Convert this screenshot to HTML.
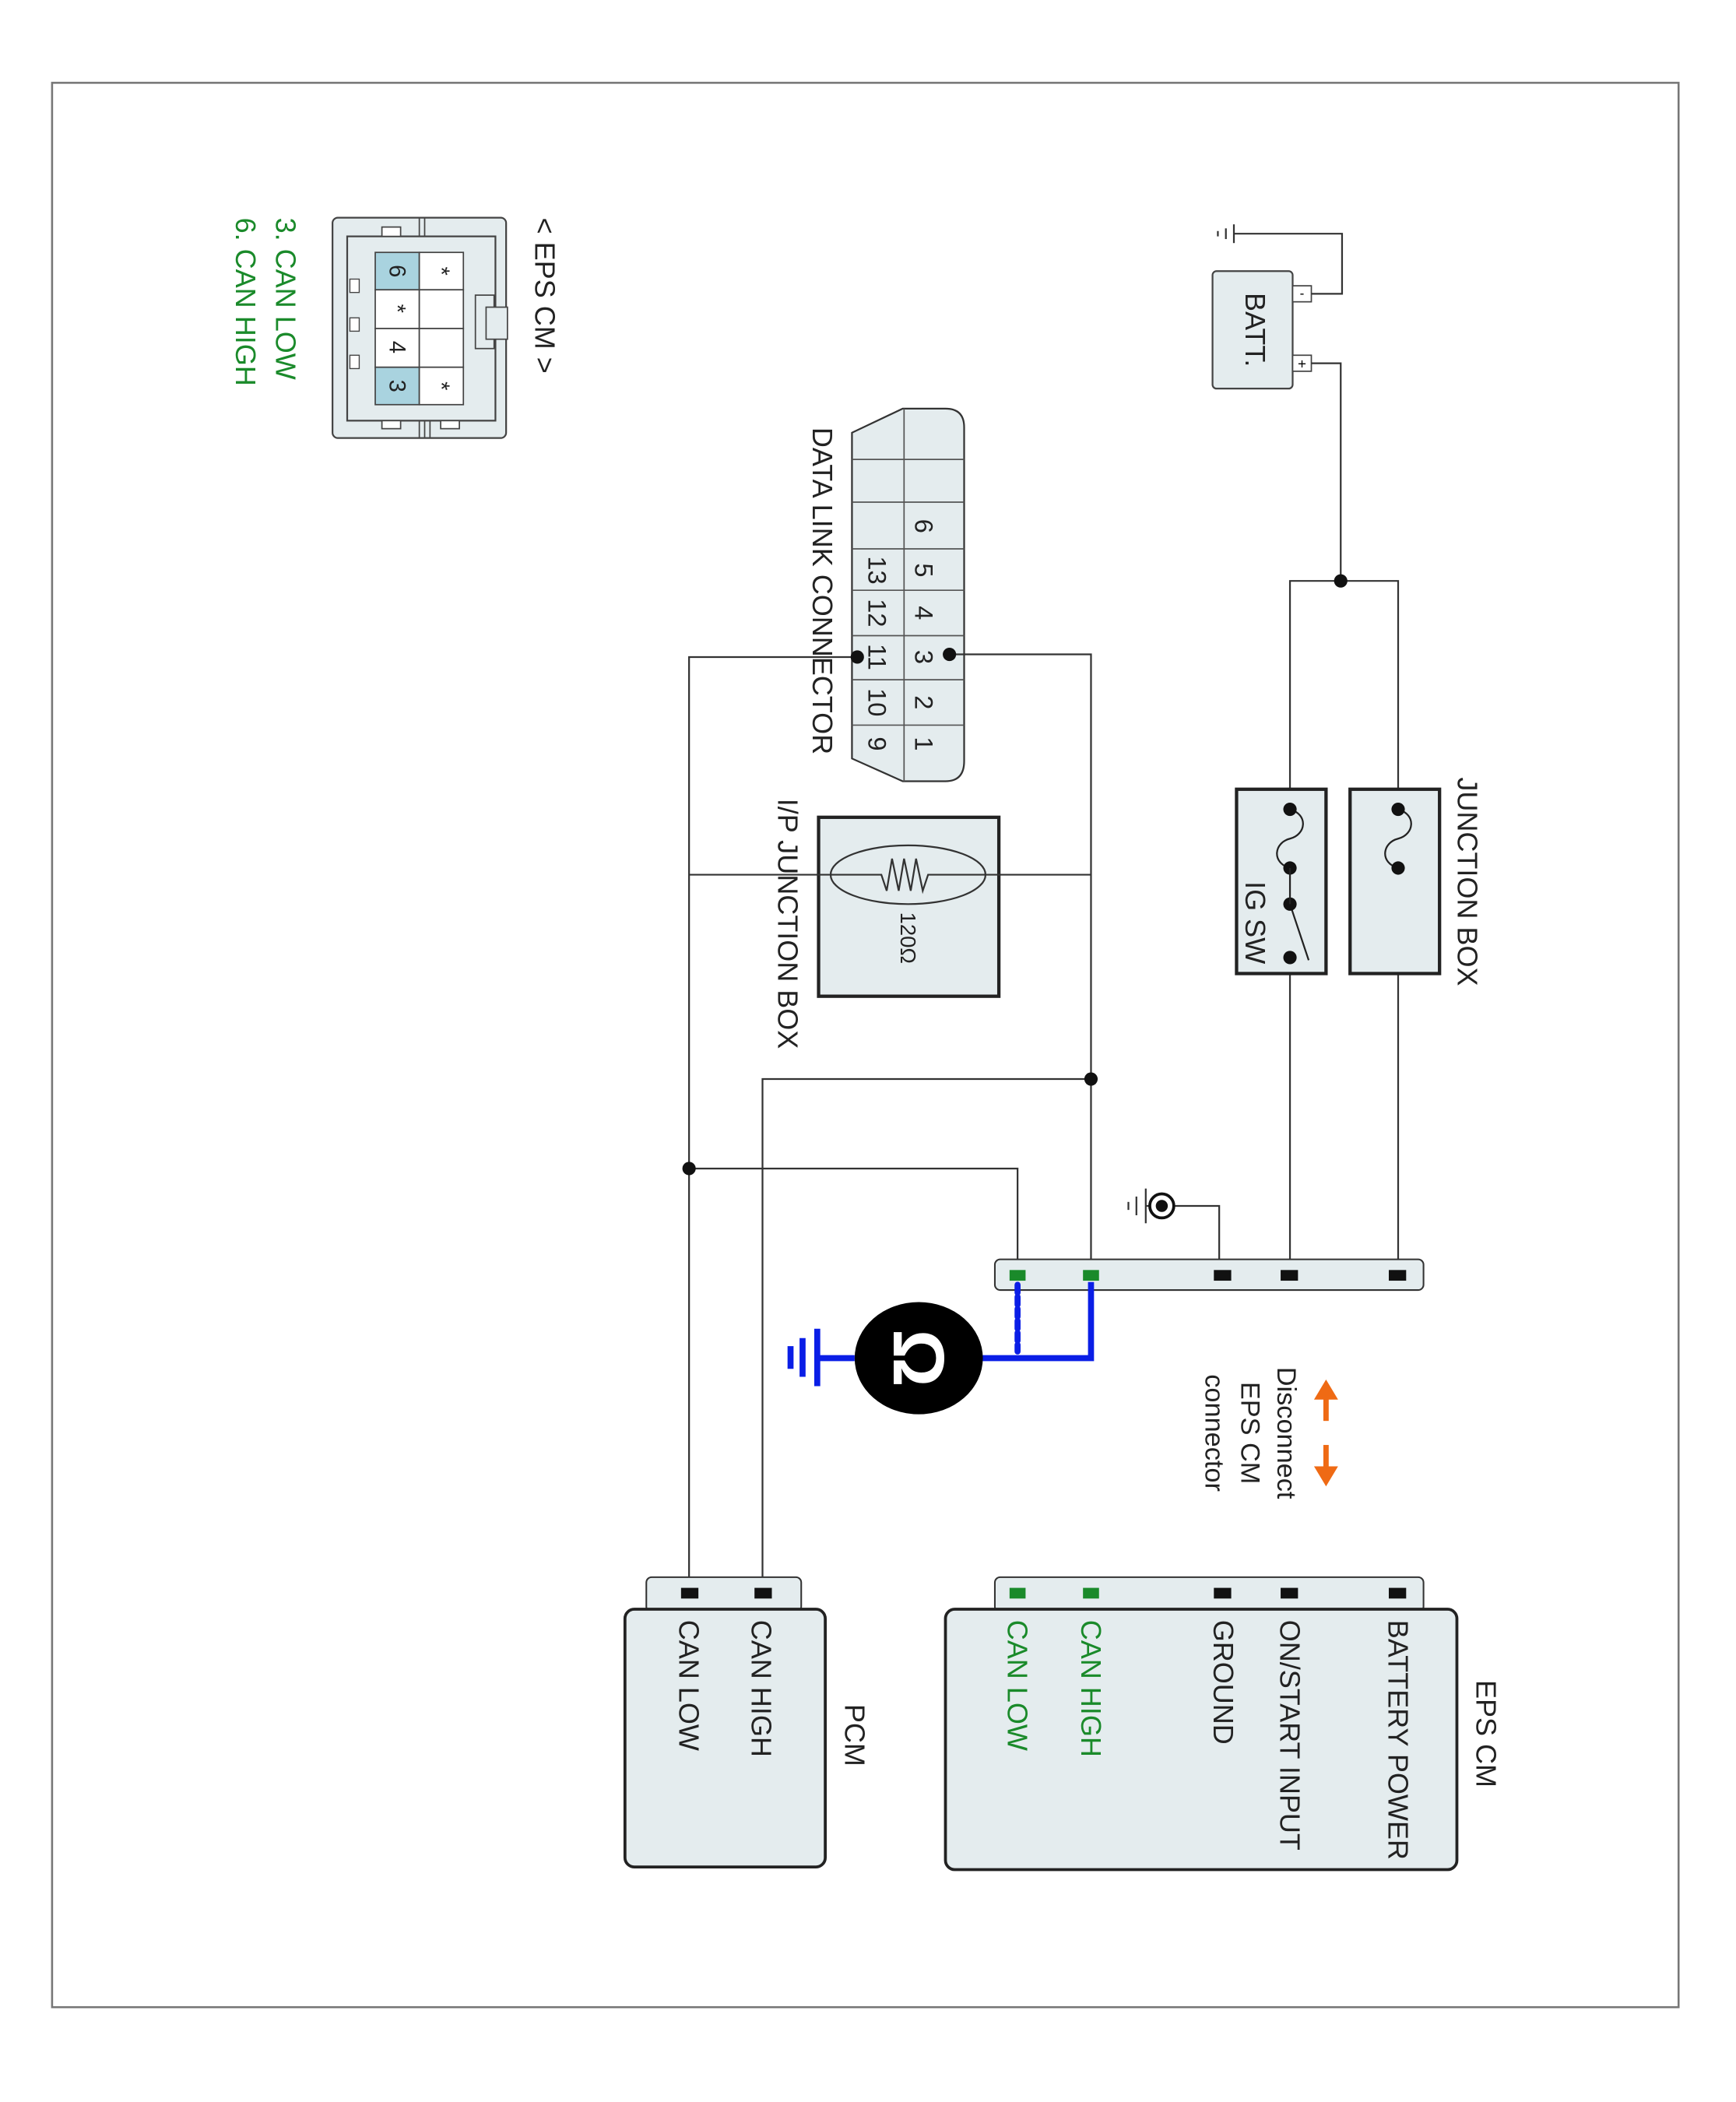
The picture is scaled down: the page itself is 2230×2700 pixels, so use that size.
<!DOCTYPE html>
<html><head><meta charset="utf-8"><style>html,body{margin:0;padding:0;background:#fff}svg{display:block}</style></head>
<body>
<svg width="2230" height="2700" viewBox="0 0 1300 1574" xmlns="http://www.w3.org/2000/svg" font-family="Liberation Sans, Arial, sans-serif">
<rect x="0" y="0" width="1300" height="1574" fill="#fff"/>
<rect x="39" y="62" width="1218" height="1441" fill="none" stroke="#777" stroke-width="1.5"/>

<!-- EPS CM connector view -->
<rect x="249" y="163" width="130" height="165" rx="4" fill="#e4ecee" stroke="#444" stroke-width="1.3"/>
<rect x="260" y="177" width="111" height="138" fill="none" stroke="#444" stroke-width="1.3"/>
<line x1="318" y1="163" x2="318" y2="177" stroke="#444"/><line x1="314" y1="163" x2="314" y2="177" stroke="#444"/>
<line x1="318" y1="315" x2="318" y2="328" stroke="#444"/><line x1="314" y1="315" x2="314" y2="328" stroke="#444"/>
<line x1="322" y1="315" x2="322" y2="328" stroke="#444"/>
<rect x="286" y="170" width="14" height="7" fill="#fff" stroke="#444"/>
<rect x="286" y="315" width="14" height="6" fill="#fff" stroke="#444"/>
<rect x="330" y="315" width="14" height="6" fill="#fff" stroke="#444"/>
<rect x="356" y="221" width="14" height="40" fill="#e4ecee" stroke="#444"/>
<rect x="364" y="230" width="16" height="24" fill="#e4ecee" stroke="#444"/>
<rect x="262" y="209" width="7" height="10" fill="#fff" stroke="#444" stroke-width="0.8"/>
<rect x="262" y="238" width="7" height="10" fill="#fff" stroke="#444" stroke-width="0.8"/>
<rect x="262" y="266" width="7" height="10" fill="#fff" stroke="#444" stroke-width="0.8"/>
<rect x="281" y="189" width="33" height="28" fill="#a9d3df" stroke="#444"/>
<rect x="314" y="189" width="33" height="28" fill="#fff" stroke="#444"/>
<rect x="281" y="217" width="33" height="29" fill="#fff" stroke="#444"/>
<rect x="314" y="217" width="33" height="29" fill="#fff" stroke="#444"/>
<rect x="281" y="246" width="33" height="29" fill="#fff" stroke="#444"/>
<rect x="314" y="246" width="33" height="29" fill="#fff" stroke="#444"/>
<rect x="281" y="275" width="33" height="28" fill="#a9d3df" stroke="#444"/>
<rect x="314" y="275" width="33" height="28" fill="#fff" stroke="#444"/>
<g font-size="17" fill="#222" text-anchor="middle" dominant-baseline="central">
<text transform="translate(297,203) rotate(90)">6</text>
<text transform="translate(330,203) rotate(90)">*</text>
<text transform="translate(297,231) rotate(90)">*</text>
<text transform="translate(297,260) rotate(90)">4</text>
<text transform="translate(297,289) rotate(90)">3</text>
<text transform="translate(330,289) rotate(90)">*</text>
</g>
<g font-size="21" dominant-baseline="central">
<text transform="translate(408,163) rotate(90)" fill="#222">&lt; EPS CM &gt;</text>
<text transform="translate(214,163) rotate(90)" fill="#1a8a2a">3. CAN LOW</text>
<text transform="translate(184,163) rotate(90)" fill="#1a8a2a">6. CAN HIGH</text>
</g>

<!-- Battery -->
<rect x="908" y="203" width="60" height="88" rx="3" fill="#e4ecee" stroke="#444" stroke-width="1.3"/>
<rect x="968" y="214" width="14" height="12" fill="#fff" stroke="#444"/>
<rect x="968" y="266" width="14" height="12" fill="#fff" stroke="#444"/>
<text x="975" y="223" font-size="10" text-anchor="middle">-</text>
<text x="975" y="276" font-size="11" text-anchor="middle">+</text>
<text transform="translate(940,247) rotate(90)" font-size="21" text-anchor="middle" dominant-baseline="central" fill="#222">BATT.</text>
<g stroke="#333" stroke-width="1.3" fill="none">
<polyline points="982,220 1005,220 1005,175 924,175"/>
<line x1="924" y1="168" x2="924" y2="182"/><line x1="918" y1="171" x2="918" y2="179"/><line x1="912" y1="173" x2="912" y2="177"/>
<polyline points="982,272 1004,272 1004,435"/>
<polyline points="966,955 966,435 1047,435 1047,955"/>
</g>
<circle cx="1004" cy="435" r="5" fill="#111"/>

<!-- Junction box -->
<rect x="926" y="591" width="67" height="138" fill="#e4ecee" stroke="#222" stroke-width="2.5"/>
<rect x="1011" y="591" width="67" height="138" fill="#e4ecee" stroke="#222" stroke-width="2.5"/>
<g stroke="#222" stroke-width="1.3" fill="none">
<path d="M966,606 C980,610 978,625 966,628 C954,631 952,646 966,650"/>
<path d="M1047,606 C1061,610 1059,625 1047,628 C1035,631 1033,646 1047,650"/>
<line x1="966" y1="677" x2="980" y2="719"/>
</g>
<g fill="#111">
<circle cx="966" cy="606" r="5"/><circle cx="966" cy="650" r="5"/><circle cx="966" cy="677" r="5"/><circle cx="966" cy="717" r="5"/>
<circle cx="1047" cy="606" r="5"/><circle cx="1047" cy="650" r="5"/>
</g>
<line x1="966" y1="650" x2="966" y2="677" stroke="#222" stroke-width="1.3"/>
<text transform="translate(940,660) rotate(90)" font-size="21" dominant-baseline="central" fill="#222">IG SW</text>
<text transform="translate(1099,582) rotate(90)" font-size="21" dominant-baseline="central" fill="#222">JUNCTION BOX</text>

<!-- DLC -->
<path d="M676,306 L708,306 Q722,306 722,320 L722,570 Q722,585 708,585 L676,585 L638,568 L638,324 Z" fill="#e4ecee" stroke="#333" stroke-width="1.3"/>
<g stroke="#555" stroke-width="1">
<line x1="677" y1="306" x2="677" y2="585"/>
<line x1="638" y1="344" x2="722" y2="344"/><line x1="638" y1="376" x2="722" y2="376"/>
<line x1="638" y1="411" x2="722" y2="411"/><line x1="638" y1="442" x2="722" y2="442"/>
<line x1="638" y1="476" x2="722" y2="476"/><line x1="638" y1="509" x2="722" y2="509"/>
<line x1="638" y1="543" x2="722" y2="543"/>
</g>
<g font-size="19" fill="#222" text-anchor="middle" dominant-baseline="central">
<text transform="translate(692,394) rotate(90)">6</text>
<text transform="translate(692,427) rotate(90)">5</text>
<text transform="translate(692,459) rotate(90)">4</text>
<text transform="translate(692,492) rotate(90)">3</text>
<text transform="translate(692,526) rotate(90)">2</text>
<text transform="translate(692,557) rotate(90)">1</text>
<text transform="translate(657,427) rotate(90)">13</text>
<text transform="translate(657,459) rotate(90)">12</text>
<text transform="translate(657,492) rotate(90)">11</text>
<text transform="translate(657,526) rotate(90)">10</text>
<text transform="translate(657,557) rotate(90)">9</text>
</g>
<text transform="translate(616,320) rotate(90)" font-size="21" dominant-baseline="central" fill="#222">DATA LINK CONNECTOR</text>

<!-- I/P junction box -->
<rect x="613" y="612" width="135" height="134" fill="#e4ecee" stroke="#222" stroke-width="2.5"/>
<g stroke="#333" stroke-width="1.3" fill="none">
<polyline points="711,490 817,490 817,955"/>
<polyline points="642,492 516,492 516,1193"/>
<line x1="516" y1="655" x2="817" y2="655"/>
</g>
<ellipse cx="680" cy="655" rx="58" ry="22" fill="#e4ecee" stroke="#333" stroke-width="1.3"/>
<polyline points="622,655 660,655 664,667 668,643 673,667 677,643 682,667 686,643 691,667 695,655 738,655" fill="none" stroke="#333" stroke-width="1.3"/>
<text transform="translate(680,683) rotate(90)" font-size="16" dominant-baseline="central" fill="#222">120Ω</text>
<text transform="translate(590,598) rotate(90)" font-size="21" dominant-baseline="central" fill="#222">I/P JUNCTION BOX</text>
<circle cx="711" cy="490" r="5" fill="#111"/><circle cx="642" cy="492" r="5" fill="#111"/>

<!-- lower wires -->
<g stroke="#333" stroke-width="1.3" fill="none">
<polyline points="817,808 571,808 571,1193"/>
<polyline points="516,875 762,875 762,955"/>
<polyline points="879,903 913,903 913,955"/>
<line x1="858" y1="890" x2="858" y2="916"/><line x1="851" y1="896" x2="851" y2="910"/><line x1="845" y1="900" x2="845" y2="906"/>
<line x1="858" y1="903" x2="862" y2="903"/>
</g>
<circle cx="870" cy="903" r="9" fill="#fff" stroke="#111" stroke-width="2.2"/>
<circle cx="870" cy="903" r="4.5" fill="#111"/>
<circle cx="817" cy="808" r="5" fill="#111"/><circle cx="516" cy="875" r="5" fill="#111"/>

<!-- EPS connector bar -->
<rect x="745" y="943" width="321" height="23" rx="4" fill="#e4ecee" stroke="#333" stroke-width="1.2"/>
<rect x="756" y="951" width="12" height="8" fill="#1a8a2a"/>
<rect x="811" y="951" width="12" height="8" fill="#1a8a2a"/>
<rect x="909" y="951" width="13" height="8" fill="#111"/>
<rect x="959" y="951" width="13" height="8" fill="#111"/>
<rect x="1040" y="951" width="13" height="8" fill="#111"/>

<!-- Ohmmeter -->
<g stroke="#0a1ee6" stroke-width="4.5" fill="none">
<polyline points="817,960 817,1017 700,1017"/>
<line x1="640" y1="1017" x2="612" y2="1017"/>
<line x1="612" y1="995" x2="612" y2="1038"/>
<line x1="601" y1="1002" x2="601" y2="1031"/>
<line x1="592" y1="1008" x2="592" y2="1025"/>
<line x1="762" y1="962" x2="762" y2="1012" stroke-dasharray="6,3" stroke-linecap="round"/>
</g>
<ellipse cx="688" cy="1017" rx="48" ry="42" fill="#000"/>
<text transform="translate(688,1017) rotate(90)" font-size="54" font-weight="bold" fill="#fff" text-anchor="middle" dominant-baseline="central">Ω</text>

<!-- disconnect note -->
<g fill="#ef6a14" stroke="#ef6a14">
<line x1="993" y1="1046" x2="993" y2="1064" stroke-width="4"/>
<polygon points="984,1048 1002,1048 993,1033" stroke="none"/>
<line x1="993" y1="1082" x2="993" y2="1100" stroke-width="4"/>
<polygon points="984,1098 1002,1098 993,1113" stroke="none"/>
</g>
<g font-size="20" fill="#222" text-anchor="middle" dominant-baseline="central">
<text transform="translate(963,1073) rotate(90)">Disconnect</text>
<text transform="translate(936,1073) rotate(90)">EPS CM</text>
<text transform="translate(909,1073) rotate(90)">connector</text>
</g>

<!-- EPS CM module -->
<rect x="745" y="1181" width="321" height="26" rx="4" fill="#e4ecee" stroke="#333" stroke-width="1.2"/>
<rect x="708" y="1205" width="383" height="195" rx="7" fill="#e4ecee" stroke="#222" stroke-width="2.2"/>
<rect x="756" y="1189" width="12" height="8" fill="#1a8a2a"/>
<rect x="811" y="1189" width="12" height="8" fill="#1a8a2a"/>
<rect x="909" y="1189" width="13" height="8" fill="#111"/>
<rect x="959" y="1189" width="13" height="8" fill="#111"/>
<rect x="1040" y="1189" width="13" height="8" fill="#111"/>
<g font-size="21" dominant-baseline="central">
<text transform="translate(1047,1213) rotate(90)" fill="#222">BATTERY POWER</text>
<text transform="translate(966,1213) rotate(90)" fill="#222">ON/START INPUT</text>
<text transform="translate(916,1213) rotate(90)" fill="#222">GROUND</text>
<text transform="translate(817,1213) rotate(90)" fill="#1a8a2a">CAN HIGH</text>
<text transform="translate(762,1213) rotate(90)" fill="#1a8a2a">CAN LOW</text>
<text transform="translate(1113,1258) rotate(90)" fill="#222">EPS CM</text>
</g>

<!-- PCM -->
<rect x="484" y="1181" width="116" height="26" rx="4" fill="#e4ecee" stroke="#333" stroke-width="1.2"/>
<rect x="468" y="1205" width="150" height="193" rx="7" fill="#e4ecee" stroke="#222" stroke-width="2.2"/>
<rect x="510" y="1189" width="13" height="8" fill="#111"/>
<rect x="565" y="1189" width="13" height="8" fill="#111"/>
<g font-size="21" fill="#222" dominant-baseline="central">
<text transform="translate(570,1213) rotate(90)">CAN HIGH</text>
<text transform="translate(516,1213) rotate(90)">CAN LOW</text>
<text transform="translate(640,1276) rotate(90)">PCM</text>
</g>
</svg>
</body></html>
